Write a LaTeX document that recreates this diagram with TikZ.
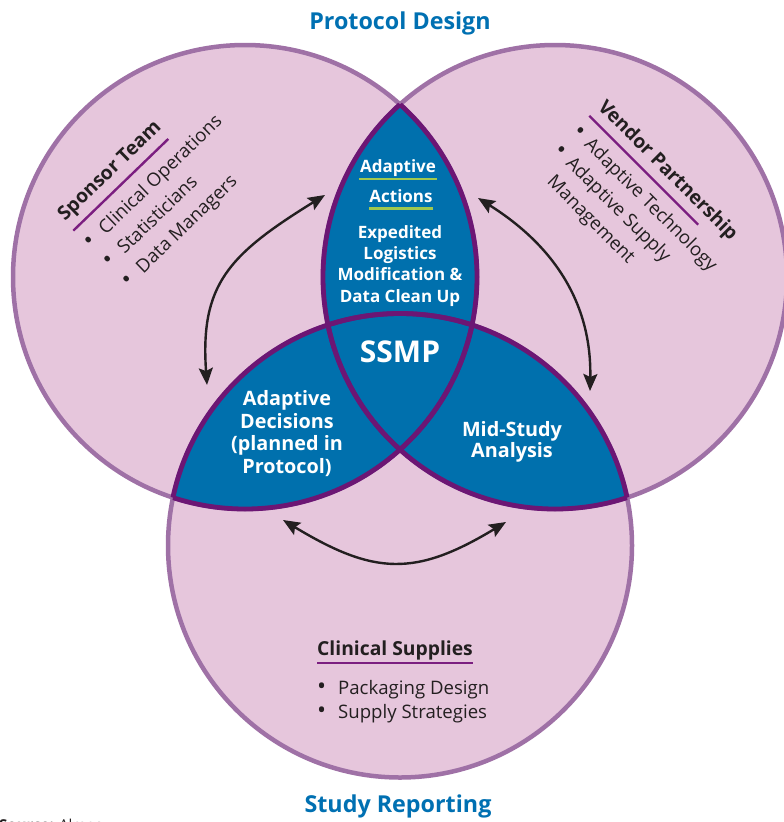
\documentclass[tikz,border=0pt]{standalone}
\usepackage{fontspec}
\setmainfont{Open Sans}
\usetikzlibrary{arrows.meta}

\definecolor{ringfill}{RGB}{230,198,220}
\definecolor{ringline}{RGB}{159,113,166}
\definecolor{corefill}{RGB}{0,112,173}
\definecolor{coreline}{RGB}{108,22,116}
\definecolor{titleblue}{RGB}{0,112,178}
\definecolor{inktext}{RGB}{35,31,32}
\definecolor{rulepurple}{RGB}{123,30,128}
\definecolor{rulegreen}{RGB}{160,200,80}

\newcommand{\dotmark}[1]{\makebox[#1][l]{\raisebox{-0.5pt}{\fontsize{24}{20}\selectfont•}}}

\begin{document}
\begin{tikzpicture}[x=1pt,y=-1pt,
  ring/.style={fill=ringfill},
  ringedge/.style={draw=ringline, line width=4.5pt},
  coreedge/.style={draw=coreline, line width=4.8pt},
  swap/.style={{Stealth[length=17pt,width=14pt,inset=3pt]}-{Stealth[length=17pt,width=14pt,inset=3pt]}, line width=2.4pt, draw=inktext},
  title/.style={text=titleblue, font=\fontsize{23.3}{27}\selectfont\bfseries, inner sep=0pt},
  corelabel/.style={text=white, font=\fontsize{17}{21.3}\selectfont\bfseries, align=center, inner sep=0pt},
  lenslabel/.style={text=white, font=\fontsize{19.8}{22.5}\selectfont\bfseries, align=center, inner sep=0pt},
  grouphead/.style={text=inktext, font=\fontsize{19.3}{22}\selectfont\bfseries, inner sep=0pt},
  groupitem/.style={text=inktext, font=\fontsize{18.6}{22}\selectfont, inner sep=0pt},
  headrule/.style={draw=rulepurple, line width=2.4pt},
  greenrule/.style={draw=rulegreen, line width=2.6pt}
]
\useasboundingbox (0,0) rectangle (784,822);

% circle centres
\coordinate (cL) at (245,277);
\coordinate (cR) at (555,277);
\coordinate (cB) at (400,545.5);

% pink discs and their outer rims
\fill[ring] (cL) circle[radius=232pt];
\fill[ring] (cR) circle[radius=232pt];
\fill[ring] (cB) circle[radius=232pt];
\draw[ringedge] (cL) circle[radius=232pt];
\draw[ringedge] (cR) circle[radius=232pt];
\draw[ringedge] (cB) circle[radius=232pt];

% blue pairwise overlaps
\begin{scope}
  \clip (cL) circle[radius=232pt];
  \fill[corefill] (cR) circle[radius=232pt];
  \fill[corefill] (cB) circle[radius=232pt];
\end{scope}
\begin{scope}
  \clip (cR) circle[radius=232pt];
  \fill[corefill] (cB) circle[radius=232pt];
\end{scope}

% dark rims of the overlaps
\begin{scope}
  \clip (cL) circle[radius=232pt];
  \draw[coreedge] (cR) circle[radius=232pt];
  \draw[coreedge] (cB) circle[radius=232pt];
\end{scope}
\begin{scope}
  \clip (cR) circle[radius=232pt];
  \draw[coreedge] (cL) circle[radius=232pt];
  \draw[coreedge] (cB) circle[radius=232pt];
\end{scope}
\begin{scope}
  \clip (cB) circle[radius=232pt];
  \draw[coreedge] (cL) circle[radius=232pt];
  \draw[coreedge] (cR) circle[radius=232pt];
\end{scope}

% titles
\node[title, anchor=base] (protocol) at (400,29) {Protocol Design};
\node[title, anchor=base] (reporting) at (398,812) {Study Reporting};
\node[anchor=base west, inner sep=0pt, text=inktext, font=\fontsize{15}{18}\selectfont] (source) at (-1,830) {\textbf{Source:} Almac};

% centre labels (multi-line nodes sit on their last baseline)
\node[corelabel, anchor=base] (adaptive) at (398,172) {Adaptive};
\draw[greenrule] (359,179) -- (437,179);
\node[corelabel, anchor=base] (actions) at (401,202.5) {Actions};
\draw[greenrule] (369,208.5) -- (433,208.5);
\node[corelabel, anchor=base] (logistics) at (400,302) {Expedited\\Logistics\\Modification \&\\Data Clean Up};
\node[corelabel, anchor=base, font=\fontsize{30}{32}\selectfont\bfseries] (ssmp) at (400,362.5) {SSMP};
\node[lenslabel, anchor=base] (decisions) at (287,473) {Adaptive\\Decisions\\(planned in\\Protocol)};
\node[lenslabel, anchor=base, font=\fontsize{19.8}{21}\selectfont\bfseries] (midstudy) at (512,457.5) {Mid-Study\\Analysis};

% Sponsor Team group
\begin{scope}[shift={(65,222)}, rotate=44, transform shape]
  \node[grouphead, anchor=base west] (sponsor) at (0,0) {Sponsor Team};
  \draw[headrule] (0,12) -- (132,12);
  \node[groupitem, anchor=base west] (ops) at (0,38) {\dotmark{20pt}Clinical Operations};
  \node[groupitem, anchor=base west] (stats) at (0,65) {\dotmark{20pt}Statisticians};
  \node[groupitem, anchor=base west] (dm) at (0,92) {\dotmark{20pt}Data Managers};
\end{scope}

% Vendor Partnership group
\begin{scope}[shift={(597,108)}, rotate=-45, transform shape]
  \node[grouphead, anchor=base west] (vendor) at (0,0) {Vendor Partnership};
  \draw[headrule] (0,11) -- (154,11);
  \node[groupitem, anchor=base west] (tech) at (0,36) {\dotmark{17pt}Adaptive Technology};
  \node[groupitem, anchor=base west] (supply) at (0,62.4) {\dotmark{17pt}Adaptive Supply};
  \node[groupitem, anchor=base west] (mgmt) at (17,88.8) {Management};
\end{scope}

% Clinical Supplies group
\node[grouphead, anchor=base west] (supplies) at (317,655) {Clinical Supplies};
\draw[headrule] (317,663) -- (473,663);
\node[groupitem, anchor=base west] (pack) at (317,694) {\dotmark{21pt}Packaging Design};
\node[groupitem, anchor=base west] (strat) at (317,718) {\dotmark{21pt}Supply Strategies};

% exchange arrows between the overlaps
\coordinate (la1) at (325,195);
\coordinate (la2) at (207,385);
\coordinate (ra1) at (478,198);
\coordinate (ra2) at (590,391);
\coordinate (ba1) at (283,520);
\coordinate (ba2) at (506,522);
\draw[swap] (la1) .. controls (228,255) and (200,285) .. (la2);
\draw[swap] (ra1) .. controls (545,240) and (592,295) .. (ra2);
\draw[swap] (ba1) .. controls (374,575) and (415,577) .. (ba2);
\end{tikzpicture}
\end{document}
